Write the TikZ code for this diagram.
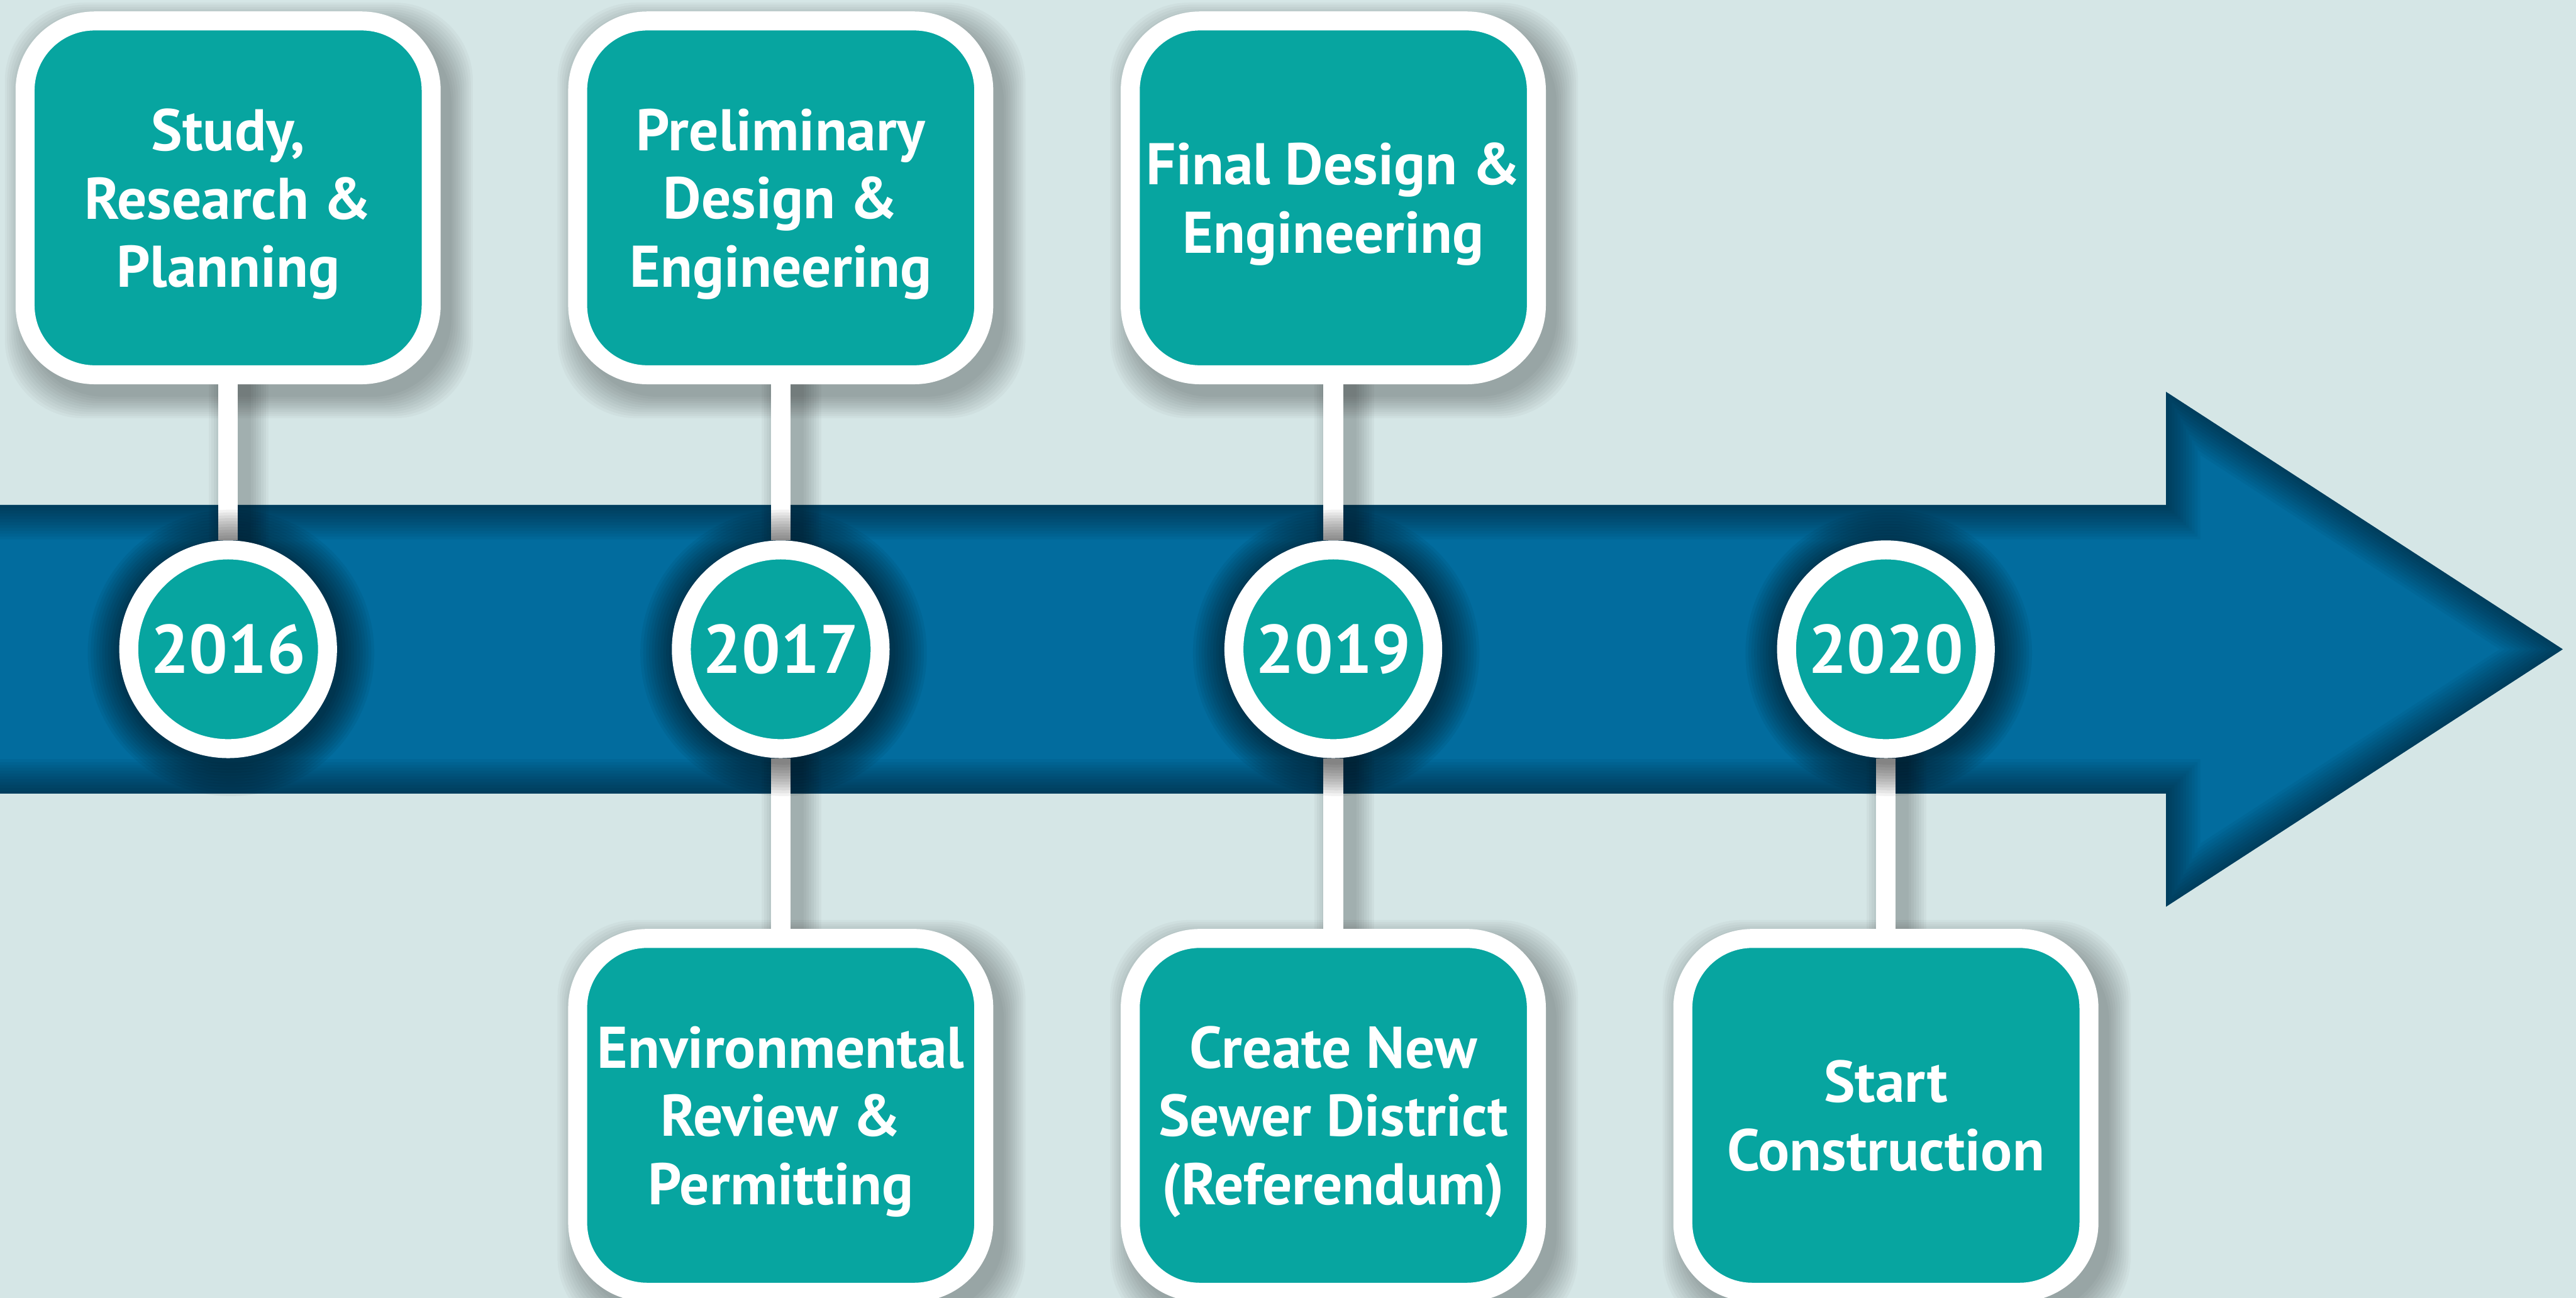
\documentclass[tikz,border=0pt]{standalone}
\usepackage{fontspec}
\setmainfont{PT Sans}
\usetikzlibrary{calc}
\definecolor{paleaqua}{RGB}{213,230,230}
\definecolor{bandblue}{RGB}{2,108,158}
\definecolor{stageteal}{RGB}{7,165,160}
\pgfdeclarelayer{back}
\pgfdeclarelayer{shade}
\pgfsetlayers{back,shade,main}
\tikzset{
  stagebox/.style={draw=white, fill=stageteal, line width=5.3mm, rounded corners=1.94cm,
    minimum width=11.34cm, minimum height=9.88cm, inner sep=0pt, align=center,
    text depth=0pt, text=white, font=\bfseries\fontsize{46.7}{54.3}\selectfont},
  yearball/.style={circle, draw=white, fill=stageteal, line width=5.3mm,
    minimum size=5.55cm, inner sep=0pt, text=white,
    font=\bfseries\fontsize{54.5}{60}\selectfont},
  stalk/.style={draw=white, line width=5.5mm},
}
\newcommand{\arrowoutline}{(-3,14.10) -- (60.48,14.10) -- (60.48,10.94) -- (71.56,18.13)
  -- (60.48,25.32) -- (60.48,22.16) -- (-3,22.16) -- cycle}
% soft shadow right/below a stage box
\newcommand{\boxshade}[1]{%
  \foreach \k in {0,...,10}{
    \fill[black, opacity=0.028, rounded corners=2.2cm]
      ($(#1.north west)+(0.3-0.06*\k,0.35-0.06*\k)$) rectangle
      ($(#1.south east)+(0.3+0.06*\k,0.35+0.06*\k)$);}}
% dark halo round a year ball
\newcommand{\ballshade}[1]{%
  \foreach \k in {1,...,12}{
    \fill[black, opacity=0.05] ($(#1)+(0.08,0.1)$) circle ({3.04+0.08*\k});}}
% shadow beside a stalk
\newcommand{\stalkshade}[2]{%
  \foreach \k in {1,...,8}{
    \draw[black, opacity=0.03, line width={5.5mm+1.4mm*\k}]
      ($(#1)+(0.3,0)$) -- ($(#2)+(0.3,0)$);}}

\begin{document}
\begin{tikzpicture}[x=1cm, y=-1cm]
\useasboundingbox (0,0) rectangle (71.93,36.24);

% stages above and below the arrow
\node[stagebox] (study) at (6.37,5.525) {Study,\\Research \&\\Planning};
\node[stagebox] (prelim) at (21.80,5.525) {Preliminary\\Design \&\\Engineering};
\node[stagebox] (final) at (37.23,5.525) {Final Design \&\\Engineering};
\node[stagebox] (enviro) at (21.80,31.145) {Environmental\\Review \&\\Permitting};
\node[stagebox] (district) at (37.23,31.145) {Create New\\Sewer District\\(Referendum)};
\node[stagebox] (build) at (52.66,31.145) {Start\\Construction};

% years on the arrow
\node[yearball] (y2016) at (6.37,18.13) {2016};
\node[yearball] (y2017) at (21.80,18.13) {2017};
\node[yearball] (y2019) at (37.23,18.13) {2019};
\node[yearball] (y2020) at (52.66,18.13) {2020};

\begin{pgfonlayer}{back}
  \fill[paleaqua] (-1,-1) rectangle (73,38);
  \fill[bandblue] \arrowoutline;
  \begin{scope}
    \clip \arrowoutline;
    \foreach \k in {1,...,12}{
      \draw[black, opacity=0.04, line width=\k*1.6mm] \arrowoutline;}
  \end{scope}
\end{pgfonlayer}

\begin{pgfonlayer}{shade}
  \foreach \b in {study,prelim,final,enviro,district,build}{\boxshade{\b}}
  \stalkshade{study}{y2016}
  \stalkshade{prelim}{y2017}
  \stalkshade{y2017}{enviro}
  \stalkshade{final}{y2019}
  \stalkshade{y2019}{district}
  \stalkshade{y2020}{build}
  \draw[stalk] (study) -- (y2016);
  \draw[stalk] (prelim) -- (y2017);
  \draw[stalk] (y2017) -- (enviro);
  \draw[stalk] (final) -- (y2019);
  \draw[stalk] (y2019) -- (district);
  \draw[stalk] (y2020) -- (build);
  \foreach \y in {y2016,y2017,y2019,y2020}{\ballshade{\y}}
\end{pgfonlayer}
\end{tikzpicture}
\end{document}
